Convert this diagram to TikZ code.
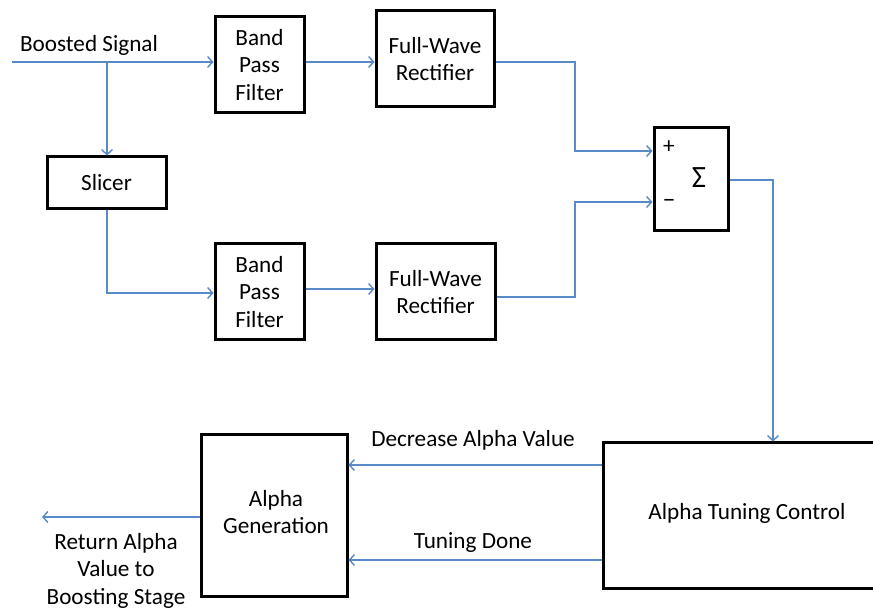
\documentclass[tikz,border=0pt]{standalone}
\usepackage{fontspec}
\setmainfont{Carlito}
\usetikzlibrary{arrows.meta}
\definecolor{wireblue}{RGB}{88,138,200}
\begin{document}
\begin{tikzpicture}[x=1pt,y=-1pt,
  box/.style={draw=black, line width=3pt, fill=white, inner sep=0pt, align=center, font=\fontsize{23.2}{27.5}\selectfont},
  wire/.style={draw=wireblue, line width=1.4pt, -{Straight Barb[length=5pt,width=11pt,line width=1.4pt]}},
  lbl/.style={inner sep=0pt, align=center, font=\fontsize{23.2}{27.5}\selectfont}]
\useasboundingbox (0,0) rectangle (873,609);
\clip (0,0) rectangle (873,609);
% boxes
\node[box, minimum width=89pt, minimum height=96pt] (bpf1) at (259.5,65) {Band\\Pass\\Filter};
\node[box, minimum width=118pt, minimum height=96pt] (fwr1) at (435,59) {Full-Wave\\Rectifier};
\node[box, minimum width=119pt, minimum height=52pt] (slicer) at (106.5,183) {Slicer};
\node[box, minimum width=89pt, minimum height=96pt] (bpf2) at (259.5,292) {Band\\Pass\\Filter};
\node[box, minimum width=119pt, minimum height=96pt] (fwr2) at (435.5,292) {Full-Wave\\Rectifier};
\node[box, minimum width=74pt, minimum height=103pt] (sum) at (691,179.5) {};
\node[lbl, font=\fontsize{31}{31}\selectfont] (sigma) at (699,178) {Σ};
\node[lbl] (plus) at (669,147) {+};
\node[lbl, font=\fontsize{26}{26}\selectfont] (minus) at (669,203) {–};
\node[box, minimum width=310pt, minimum height=145pt] (atc) at (758,515.5) {};
\node[lbl] (atct) at (747,513) {Alpha Tuning Control};
\node[box, minimum width=146pt, minimum height=161pt] (ag) at (274,515.5) {};
\node[lbl] (agt) at (276,512) {Alpha\\Generation};
% coordinates
\coordinate (in) at (12,62);
\coordinate (br) at (107,62);
\coordinate (sl) at (107,293);
\coordinate (j1) at (575,62);
\coordinate (pin) at (575,151);
\coordinate (j2) at (575,297);
\coordinate (min) at (575,202);
\coordinate (b2) at (0,289);
\coordinate (so) at (773,180);
\coordinate (dec) at (0,465);
\coordinate (td) at (0,560);
\coordinate (ret) at (42,517);
% wires
\draw[wire] (in) -- (in -| bpf1.west);
\draw[wire] (br) -- (br |- slicer.north);
\draw[wire] (slicer.south -| sl) -- (sl) -- (sl -| bpf2.west);
\draw[wire] (bpf1.east |- in) -- (fwr1.west |- in);
\draw[wire] (fwr1.east |- j1) -- (j1) -- (pin) -- (pin -| sum.west);
\draw[wire] (bpf2.east |- b2) -- (fwr2.west |- b2);
\draw[wire] (fwr2.east |- j2) -- (j2) -- (min) -- (min -| sum.west);
\draw[wire] (sum.east |- so) -- (so) -- (so |- atc.north);
\draw[wire] (atc.west |- dec) -- (ag.east |- dec);
\draw[wire] (atc.west |- td) -- (ag.east |- td);
\draw[wire] (ag.west |- ret) -- (ret);
% labels
\node[lbl] (bs) at (89,45) {Boosted Signal};
\node[lbl] (dav) at (473,440) {Decrease Alpha Value};
\node[lbl] (tdl) at (473,543) {Tuning Done};
\node[lbl] (rav) at (116,570.5) {Return Alpha\\Value to\\Boosting Stage};
\end{tikzpicture}
\end{document}
